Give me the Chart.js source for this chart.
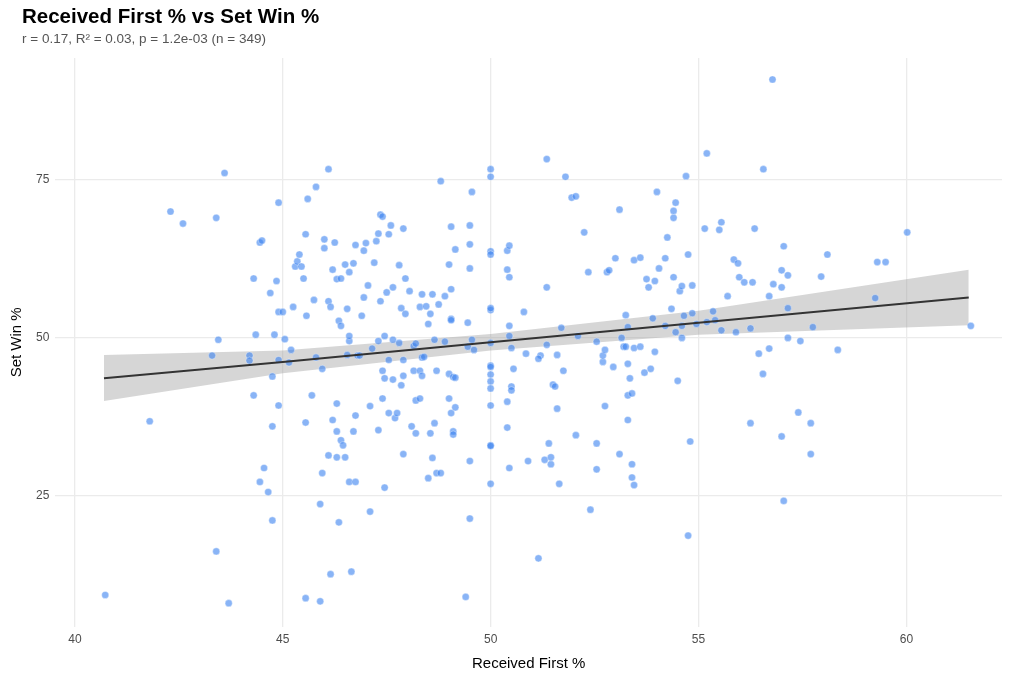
<!DOCTYPE html>
<html lang="en">
<head>
  <meta charset="UTF-8" />
  <title>Received First % vs Set Win %</title>
  <script src="https://cdn.jsdelivr.net/npm/chart.js"></script>
  <style>
    body { margin: 0; background: white; font-family: "Liberation Sans", Arial, sans-serif; }
    #wrap { position: relative; width: 1024px; height: 683px; }
    #title { position: absolute; left: 22px; top: 4px; font-size: 20.5px; font-weight: bold; color: #000; }
    #sub { position: absolute; left: 22px; top: 31px; font-size: 13.5px; color: #555; }
  </style>
</head>
<body>
  <div id="wrap">
    <div id="title">Received First % vs Set Win %</div>
    <div id="sub">r = 0.17, R² = 0.03, p = 1.2e-03 (n = 349)</div>
    <canvas id="chart"></canvas>
  </div>
  <script>
    // points: [received first %, set win %]
    const points = [
      [40.73,9.3],[42.3,70.0],[42.6,68.1],[43.4,69.0],[43.6,76.1],[41.8,36.8],[43.4,16.2],[43.45,49.7],[43.3,47.2],[43.7,8.0],
      [44.2,47.2],[44.2,46.4],[44.3,59.4],[44.3,40.9],[44.35,50.5],[44.45,65.1],[44.5,65.4],[44.45,27.2],[44.55,29.4],[44.65,25.6],
      [44.7,57.1],[44.75,21.1],[44.75,36.0],[44.75,43.9],[44.8,50.5],[44.85,59.0],[44.9,46.5],[44.9,39.3],[44.9,71.4],[44.9,54.1],[45.0,54.1],
      [45.05,49.8],[45.15,46.1],[45.2,48.1],[45.25,54.9],[45.3,61.3],[45.35,62.1],[45.4,63.2],[45.45,61.3],[45.5,59.4],[45.55,36.6],
      [45.55,66.4],[45.55,8.8],[45.57,53.5],[45.6,72.0],[45.7,40.9],[45.8,73.9],[45.75,56.0],[45.8,46.9],[45.9,23.7],[45.9,8.3],
      [45.95,45.1],[45.95,28.6],[46.0,64.2],[46.0,65.6],[46.1,76.7],[46.1,55.8],[46.1,31.4],[46.15,54.9],[46.15,12.6],[46.2,37.0],
      [46.2,60.8],[46.25,65.1],[46.3,35.2],[46.3,31.1],[46.3,59.3],[46.3,39.6],[46.35,52.7],[46.35,20.8],[46.4,59.4],[46.4,33.8],
      [46.4,51.9],[46.45,33.0],[46.5,31.1],[46.5,61.6],[46.55,47.3],[46.55,54.6],[46.6,49.5],[46.6,50.3],[46.6,27.2],[46.6,60.4],
      [46.65,13.0],[46.7,35.2],[46.75,27.2],[46.7,61.8],[46.75,64.7],[46.75,37.7],[46.8,47.2],[46.85,47.2],[46.9,53.5],[46.95,63.8],
      [46.95,56.4],[47.0,65.0],[47.05,58.3],[47.1,22.5],[47.1,39.2],[47.15,48.3],[47.2,61.9],[47.25,65.3],[47.3,49.5],[47.3,35.4],
      [47.3,66.5],[47.35,69.5],[47.35,55.8],[47.4,40.4],[47.4,69.2],[47.4,44.8],[47.45,26.3],[47.45,43.6],[47.45,50.3],[47.5,57.2],
      [47.55,66.4],[47.55,46.5],[47.55,38.1],[47.6,67.8],[47.65,58.0],[47.65,49.7],[47.65,43.4],[47.7,37.3],[47.75,38.1],[47.8,49.2],
      [47.85,42.5],[47.8,61.5],[47.85,54.7],[47.9,31.6],[47.9,67.3],[47.9,44.0],[47.9,46.5],[47.95,59.4],[47.95,53.8],[48.05,57.4],
      [48.1,36.0],[48.15,44.8],[48.15,48.7],[48.2,49.1],[48.2,40.1],[48.2,34.9],[48.3,54.9],[48.3,44.8],[48.3,40.4],[48.35,44.0],
      [48.35,46.9],[48.35,56.9],[48.4,47.0],[48.45,55.0],[48.5,27.8],[48.5,52.2],[48.55,34.9],[48.55,53.8],[48.6,56.9],[48.6,31.0],
      [48.65,36.5],[48.65,49.7],[48.7,44.8],[48.7,28.6],[48.75,55.3],[48.8,74.8],[48.8,28.6],[48.9,49.4],[48.9,56.6],[49.0,61.6],
      [49.0,44.3],[49.0,40.4],[49.05,38.1],[49.05,53.0],[49.05,52.8],[49.05,57.7],[49.05,67.6],[49.1,35.2],[49.1,34.7],[49.1,43.8],
      [49.15,64.0],[49.15,43.7],[49.15,39.0],[49.4,9.0],[49.45,48.6],[49.45,52.4],[49.5,30.5],[49.5,21.4],[49.5,61.0],[49.5,67.8],
      [49.5,64.8],[49.55,73.1],[49.55,49.7],[49.6,48.1],
      [50,76.7],[50,75.5],[50,63.7],[50,54.4],[50,54.7],[50,45.6],[50,45.4],[50,44.2],[50,43.1],[50,42.0],[50,39.3],[50,33.0],
      [50,32.9],[50,26.9],[50,49.2],[50,63.2],
      [50.4,39.9],[50.4,35.8],[50.4,63.8],[50.4,60.8],[50.45,59.6],[50.45,51.9],[50.45,50.3],[50.5,48.4],[50.5,42.3],[50.5,41.7],
      [50.45,64.6],[50.45,29.4],[50.55,45.1],[50.85,47.5],[50.8,54.1],[50.9,30.5],[51.2,47.2],[51.15,46.7],[51.15,15.1],[51.3,30.7],
      [51.35,58.0],[51.35,48.9],[51.35,78.3],[51.4,33.3],[51.45,30.0],[51.45,31.1],[51.5,42.6],[51.55,42.3],[51.6,47.3],[51.6,38.8],
      [51.65,26.9],[51.7,51.6],[51.75,44.8],[51.8,75.5],[51.95,72.2],[52.05,72.4],[52.05,34.6],[52.1,50.3],[52.25,66.7],[52.35,60.4],
      [52.4,22.8],[52.55,49.4],[52.55,33.3],[52.55,29.2],[52.7,46.2],[52.7,47.2],[52.75,48.1],[52.75,39.2],[52.8,60.4],[52.85,60.7],
      [52.95,45.4],[53.0,62.6],[53.1,31.6],[53.1,70.3],[53.15,50.0],[53.2,48.6],[53.25,48.6],[53.25,53.6],[53.3,51.7],[53.3,45.9],
      [53.3,37.0],[53.3,40.9],[53.35,43.6],[53.4,30.0],[53.4,41.2],[53.45,48.4],[53.4,27.9],[53.45,62.3],[53.45,26.7],[53.6,48.6],
      [53.6,62.7],[53.7,44.5],[53.75,59.3],[53.8,58.0],[53.85,45.1],[53.9,53.1],[53.95,59.0],[53.95,47.8],[54.0,73.1],[54.05,61.0],
      [54.2,62.6],[54.2,51.9],[54.25,65.9],[54.35,54.6],[54.4,69.0],[54.4,70.1],[54.45,71.4],[54.4,59.6],[54.45,50.9],[54.5,43.2],
      [54.55,57.4],[54.6,51.9],[54.6,50.0],[54.6,58.2],[54.65,53.5],[54.75,18.7],[54.7,75.6],[54.8,33.6],[54.85,53.9],[54.85,58.3],
      [56.78,90.9],[55.2,79.2],[56.56,76.7],[55.15,67.3],[55.5,67.1],[55.55,68.3],[56.35,67.3],[60.02,66.7],[57.05,64.5],[54.75,63.2],
      [58.1,63.2],[55.85,62.4],[55.95,61.8],[59.3,62.0],[59.5,62.0],[57.0,60.7],[57.15,59.9],[55.98,59.6],[56.1,58.8],[56.3,58.8],
      [57.95,59.7],[56.8,58.5],[57.0,58.0],[55.7,56.6],[56.7,56.6],[59.25,56.3],[57.15,54.7],[55.35,54.2],[55.4,52.8],[54.95,52.2],
      [55.2,52.5],[55.55,51.2],[55.9,50.9],[56.25,51.5],[57.75,51.7],[61.55,51.9],[57.15,50.0],[57.45,49.5],[56.45,47.5],[56.7,48.3],
      [58.35,48.1],[56.55,44.3],[57.4,38.2],[56.25,36.5],[57.7,36.5],[57.0,34.4],[57.7,31.6],[57.05,24.2]
    ];
    // fitted line and 95% band
    const fitX = [40.7, 45, 50, 55, 61.5];
    const fitY = [43.6, 46.2, 49.3, 52.4, 56.4];
    const bandHi = [47.3, 48.0, 50.6, 54.3, 60.8];
    const bandLo = [40.0, 44.4, 48.0, 50.5, 52.0];
    const xTicks = [40, 45, 50, 55, 60];
    const yTicks = [25, 50, 75];

    const xy = (xs, ys) => xs.map((x, i) => ({ x: x, y: ys[i] }));

    new Chart(document.getElementById("chart"), {
      type: 'scatter',
      data: {
        datasets: [
          { type: 'line', data: xy(fitX, bandLo), borderWidth: 0, pointRadius: 0, fill: false, order: 3 },
          { type: 'line', data: xy(fitX, bandHi), borderWidth: 0, pointRadius: 0, fill: '-1',
            backgroundColor: 'rgba(153,153,153,0.4)', order: 3 },
          { data: points.map(p => ({ x: p[0], y: p[1] })), pointRadius: 3.6,
            backgroundColor: 'rgba(59,130,240,0.6)', borderColor: 'rgba(255,255,255,0.6)', borderWidth: 0.6, order: 2 },
          { type: 'line', data: xy(fitX, fitY), borderColor: '#333333', borderWidth: 2, pointRadius: 0, fill: false, order: 1 }
        ]
      },
      options: {
        responsive: true, maintainAspectRatio: false, animation: false,
        layout: { padding: { left: 4, right: 22, top: 58, bottom: 6 } },
        plugins: { legend: { display: false }, tooltip: { enabled: false } },
        scales: {
          x: {
            min: 39.53, max: 62.3,
            afterBuildTicks: ax => { ax.ticks = xTicks.map(v => ({ value: v })); },
            grid: { color: '#ebebeb', lineWidth: 1.3, drawTicks: false },
            border: { display: false },
            ticks: { color: '#4d4d4d', font: { size: 12 }, padding: 6 },
            title: { display: true, text: 'Received First %', color: '#000', font: { size: 15 }, padding: { top: 2 } }
          },
          y: {
            min: 4.3, max: 94.3,
            afterBuildTicks: ax => { ax.ticks = yTicks.map(v => ({ value: v })); },
            grid: { color: '#ebebeb', lineWidth: 1.3, drawTicks: false },
            border: { display: false },
            ticks: { color: '#4d4d4d', font: { size: 12 }, padding: 6 },
            title: { display: true, text: 'Set Win %', color: '#000', font: { size: 15 } }
          }
        }
      }
    });
  </script>
</body>
</html>
